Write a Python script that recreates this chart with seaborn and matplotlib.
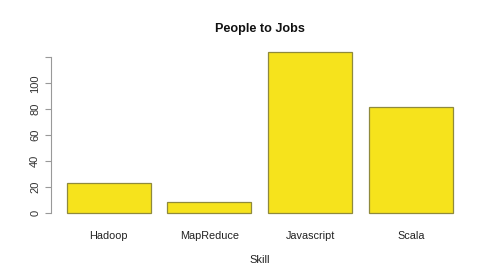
import matplotlib
matplotlib.use("Agg")
import matplotlib.pyplot as plt
import seaborn as sns
import pandas as pd

skills = ["Hadoop", "MapReduce", "Javascript", "Scala"]
people = [23, 9, 124, 82]
yticks = [0, 20, 40, 60, 80, 100, 120]
yticklabels = ["0", "20", "40", "60", "80", "100", ""]

sns.set_style("white")
plt.rcParams["font.family"] = ["Liberation Sans", "DejaVu Sans"]

df = pd.DataFrame({"Skill": skills, "People": people})

fig = plt.figure(figsize=(4.95, 2.8), dpi=100)
left, right, bottom, top = 0.1036, 0.9457, 0.2154, 0.8368
ax = fig.add_axes([left, bottom, right - left, top - bottom])
sns.barplot(data=df, x="Skill", y="People", color="#F6E31C", saturation=1,
            width=1 / 1.2, edgecolor="#8f8a3c", linewidth=0.9, ax=ax)

ax.set_xlim(-0.57, 3.57)
ax.set_ylim(-4.96, 128.96)
ax.set_yticks(yticks)
ax.set_yticklabels(yticklabels, rotation=90, va="center", fontsize=8, color="#333333")
ax.tick_params(axis="y", length=4, width=0.8, color="#999999", pad=4, left=True)
ax.tick_params(axis="x", length=0, pad=8.5, labelsize=7.8, labelcolor="#222222")
for s in ["top", "right", "bottom"]:
    ax.spines[s].set_visible(False)
ax.spines["left"].set_bounds(0, 120)
ax.spines["left"].set_color("#999999")
ax.spines["left"].set_linewidth(0.8)
ax.set_ylabel("")
ax.set_xlabel("Skill", fontsize=8, labelpad=10, color="#222222")
fig.text((left + right) / 2, 0.898, "People to Jobs", ha="center", va="center",
         fontsize=9.1, fontweight="bold", color="#111111")

fig.savefig("out.png", dpi=100)
